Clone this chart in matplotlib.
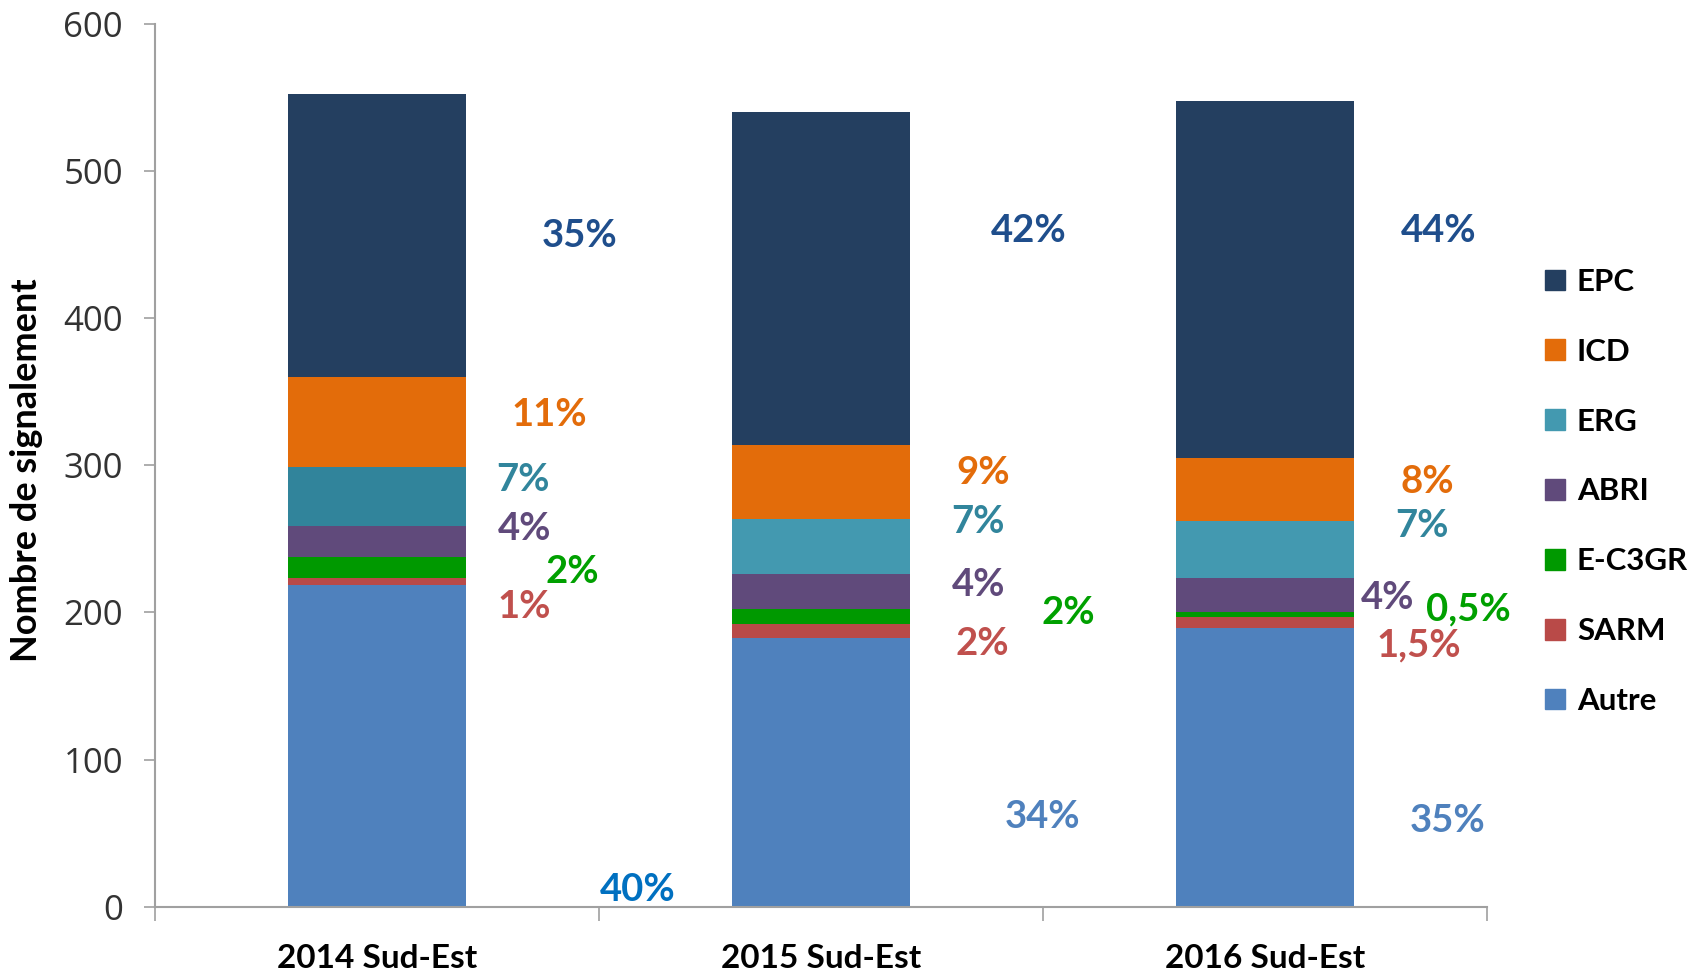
import matplotlib
matplotlib.use("Agg")
import matplotlib.pyplot as plt
import matplotlib.patches as mpatches
import numpy as np

# ── data ────────────────────────────────────────────────────────────────
categories = ["2014 Sud-Est", "2015 Sud-Est", "2016 Sud-Est"]
series = ["Autre", "SARM", "E-C3GR", "ABRI", "ERG", "ICD", "EPC"]  # bottom -> top

autre = [218.5, 182.7, 189.7]
sarm = [4.8, 9.3, 7.4]
ec3gr = [14.2, 10.4, 3.0]
abri = [21.3, 23.8, 23.5]
erg = [39.9, 37.4, 38.8]
icd = [61.6, 50.3, 42.4]
epc = [192.2, 226.6, 242.8]
values = [autre, sarm, ec3gr, abri, erg, icd, epc]

# percent labels per series, one per year
pct_labels = {
    "EPC": ["35%", "42%", "44%"],
    "ICD": ["11%", "9%", "8%"],
    "ERG": ["7%", "7%", "7%"],
    "ABRI": ["4%", "4%", "4%"],
    "E-C3GR": ["2%", "2%", "0,5%"],
    "SARM": ["1%", "2%", "1,5%"],
    "Autre": ["40%", "34%", "35%"],
}

# ── style ───────────────────────────────────────────────────────────────
bar_colors = {
    "EPC": "#243F60",
    "ICD": "#E36C0A",
    "ERG": ["#31849B", "#4399B0", "#4399B0"],
    "ABRI": "#604A7B",
    "E-C3GR": "#009900",
    "SARM": "#B94A48",
    "Autre": "#4F81BD",
}
legend_colors = {
    "EPC": "#243F60", "ICD": "#E36C0A", "ERG": "#4399B0", "ABRI": "#604A7B",
    "E-C3GR": "#009900", "SARM": "#B94A48", "Autre": "#4F81BD",
}
text_colors = {
    "EPC": "#1F4E8C",
    "ICD": "#E36C0A",
    "ERG": "#31859C",
    "ABRI": "#604A7B",
    "E-C3GR": "#00A000",
    "SARM": "#C0504D",
    "Autre": ["#0070C0", "#4F81BD", "#4F81BD"],
}
# label anchor positions (data coords), hand placed as in the original
label_pos = {
    "EPC": [(0.457, 456), (1.468, 459), (2.392, 459)],
    "ICD": [(0.387, 334), (1.365, 295), (2.365, 289)],
    "ERG": [(0.329, 290), (1.354, 261.5), (2.354, 258.5)],
    "ABRI": [(0.333, 257), (1.354, 219), (2.275, 210)],
    "E-C3GR": [(0.439, 227.5), (1.556, 199.5), (2.459, 202)],
    "SARM": [(0.331, 204), (1.363, 178.5), (2.347, 177.5)],
    "Autre": [(0.588, 11.5), (1.498, 61), (2.412, 58.5)],
}

FONT = "Lato"
plt.rcParams["font.family"] = [FONT, "DejaVu Sans"]

fig = plt.figure(figsize=(16.99, 9.73), dpi=100)
ax = fig.add_axes([155 / 1699, 1 - 906.7 / 973, (1487 - 155) / 1699, (906.7 - 24) / 973])

x = np.arange(len(categories))
bottom = np.zeros(len(categories))
for name, vals in zip(series, values):
    ax.bar(x, vals, width=0.4, bottom=bottom, color=bar_colors[name], linewidth=0)
    bottom += np.array(vals)

for name in series:
    cols = text_colors[name]
    for i, (px, py) in enumerate(label_pos[name]):
        c = cols[i] if isinstance(cols, list) else cols
        ax.text(px, py, pct_labels[name][i], color=c, fontsize=27.5, fontweight="bold",
                ha="center", va="center")

ax.set_xlim(-0.5, 2.5)
ax.set_ylim(0, 600)
ax.set_yticks(range(0, 601, 100))
ax.tick_params(axis="y", length=8, width=1.2, color="#A0A0A0", pad=15,
               labelsize=25, labelcolor="#333333")
for lab in ax.get_yticklabels():
    lab.set_family(["Open Sans", "DejaVu Sans"])

ax.set_xticks(x)
ax.set_xticklabels(categories, fontsize=24, fontweight="bold")
ax.set_xticks([-0.5, 0.5, 1.5, 2.5], minor=True)
ax.tick_params(axis="x", which="major", length=0, pad=27)
ax.tick_params(axis="x", which="minor", length=10, width=1.2, color="#A0A0A0")

ax.spines[["top", "right"]].set_visible(False)
for s in ("left", "bottom"):
    ax.spines[s].set_color("#A0A0A0")
    ax.spines[s].set_linewidth(1.5)

ax.set_ylabel("Nombre de signalement", fontsize=26, fontweight="bold")
ax.yaxis.set_label_coords(-0.084, 0.495)

handles = [mpatches.Patch(color=legend_colors[n], label=n) for n in series[::-1]]
fig.legend(handles=handles, loc="center left", bbox_to_anchor=(1545 / 1699, 1 - 491.5 / 973),
           frameon=False, prop={"size": 22.5, "weight": "bold"}, handlelength=0.64,
           handleheight=0.64, handletextpad=0.38, labelspacing=1.34, borderpad=0,
           borderaxespad=0)

fig.savefig("out.png", dpi=100)
